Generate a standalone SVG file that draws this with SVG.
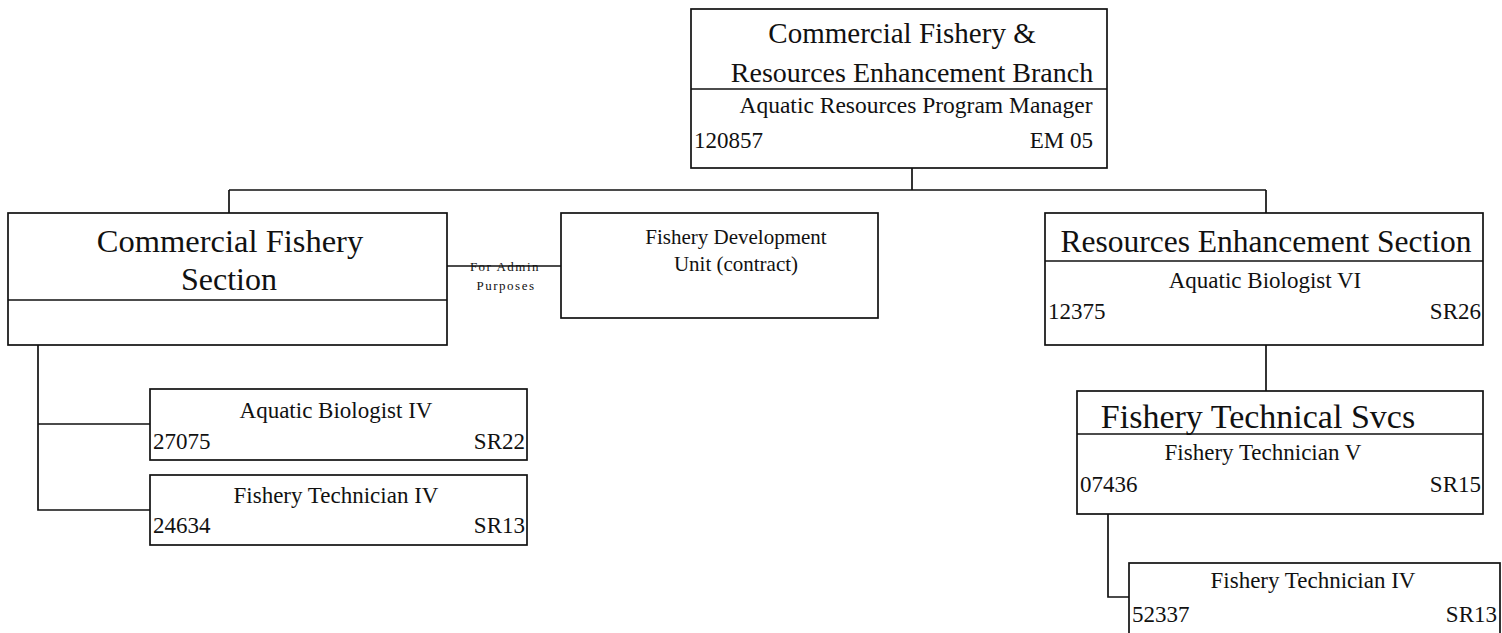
<svg xmlns="http://www.w3.org/2000/svg" width="1502" height="633" viewBox="0 0 1502 633">
<style>
.box{fill:#fff;stroke:#111;stroke-width:1.7}
.ln{fill:none;stroke:#111;stroke-width:1.7}
text{font-family:"Liberation Serif","Times New Roman",serif;fill:#111}
.t{font-size:32px;text-anchor:middle}
.tt{font-size:28px;text-anchor:middle}
.s{font-size:23px;text-anchor:middle}
.l{font-size:23px;text-anchor:start}
.r{font-size:23px;text-anchor:end}
.tiny{font-size:13px;text-anchor:middle;letter-spacing:1.5px}
</style>
<rect width="1502" height="633" fill="#fff"/>
<g id="connectors">
<path class="ln" d="M912 168V190M229 190H1266M229 190V213M1266 190V213"/>
<path class="ln" d="M447 266H561"/>
<path class="ln" d="M38 345V510H150M38 424H150"/>
<path class="ln" d="M1266 345V391"/>
<path class="ln" d="M1108 514V597H1129"/>
<text class="tiny" x="505" y="271">For Admin</text>
<text class="tiny" x="506" y="290">Purposes</text>
</g>
<g id="branch">
<rect class="box" x="691" y="9" width="416" height="159"/>
<path class="ln" d="M691 89H1107"/>
<text class="tt" x="902" y="43" style="font-size:29px">Commercial Fishery &amp;</text>
<text class="tt" x="912" y="82">Resources Enhancement Branch</text>
<text class="s" x="916" y="113" style="font-size:23.5px">Aquatic Resources Program Manager</text>
<text class="l" x="694" y="148">120857</text>
<text class="r" x="1093" y="148">EM 05</text>
</g>
<g id="cf-section">
<rect class="box" x="8" y="213" width="439" height="132"/>
<path class="ln" d="M8 300H447"/>
<text class="t" x="230" y="252" style="font-size:32.5px">Commercial Fishery</text>
<text class="t" x="229" y="290">Section</text>
</g>
<g id="fd-unit">
<rect class="box" x="561" y="213" width="317" height="105"/>
<text class="s" x="736" y="244" style="font-size:21px">Fishery Development</text>
<text class="s" x="736" y="271" style="font-size:21px">Unit (contract)</text>
</g>
<g id="re-section">
<rect class="box" x="1045" y="213" width="438" height="132"/>
<path class="ln" d="M1045 261H1483"/>
<text class="t" x="1266" y="252" style="font-size:31.5px">Resources Enhancement Section</text>
<text class="s" x="1265" y="288">Aquatic Biologist VI</text>
<text class="l" x="1048" y="319">12375</text>
<text class="r" x="1481" y="319">SR26</text>
</g>
<g id="ab-iv">
<rect class="box" x="150" y="389" width="377" height="71"/>
<text class="s" x="336" y="418">Aquatic Biologist IV</text>
<text class="l" x="153" y="449">27075</text>
<text class="r" x="525" y="449">SR22</text>
</g>
<g id="ft-iv-left">
<rect class="box" x="150" y="475" width="377" height="70"/>
<text class="s" x="336" y="503">Fishery Technician IV</text>
<text class="l" x="153" y="533">24634</text>
<text class="r" x="525" y="533">SR13</text>
</g>
<g id="fts">
<rect class="box" x="1077" y="391" width="406" height="123"/>
<path class="ln" d="M1077 434H1483"/>
<text class="t" x="1258" y="428" style="font-size:34px">Fishery Technical Svcs</text>
<text class="s" x="1263" y="460">Fishery Technician V</text>
<text class="l" x="1080" y="492">07436</text>
<text class="r" x="1481" y="492">SR15</text>
</g>
<g id="ft-iv-right">
<rect class="box" x="1129" y="563" width="371" height="80"/>
<text class="s" x="1313" y="588">Fishery Technician IV</text>
<text class="l" x="1132" y="622">52337</text>
<text class="r" x="1497" y="622">SR13</text>
</g>
</svg>
